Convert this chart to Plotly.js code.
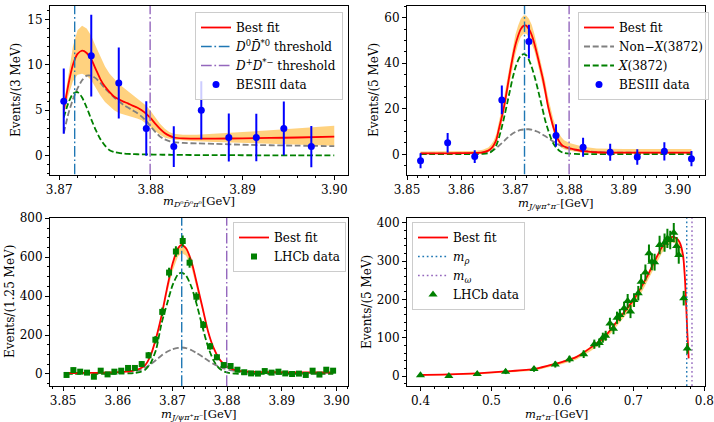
<!DOCTYPE html>
<html><head><meta charset="utf-8">
<script src="https://cdn.plot.ly/plotly-3.0.1.min.js"></script>
<style>html,body{margin:0;padding:0;background:#fff}</style>
</head><body><div id="chart" style="width:714px;height:422px"></div>
<script>
// ---------------- DATA ----------------
// thresholds / resonance masses (GeV)
const thresholdsD = [3.87169, 3.87992];      // D0 D0bar*0, D+ D*-
const massesRhoOmega = [0.77526, 0.78266];   // m_rho, m_omega

// Panel 1: BESIII D0 D0bar pi0
const tlDataX = [3.8705, 3.8735, 3.8765, 3.8795, 3.8825, 3.8855, 3.8885, 3.8915, 3.8945, 3.8975];
const tlDataY = [6, 11, 8, 3, 1, 5, 2, 2, 3, 1];
const tlDataErr = [3.6, 4.5, 3.9, 3.0, 2.25, 3.2, 2.65, 2.6, 2.95, 2.27];
const tlCurveX = [3.8705, 3.8710, 3.8715, 3.8720, 3.8725, 3.8730, 3.8735, 3.8740, 3.8745, 3.8750, 3.8755, 3.8760, 3.8765, 3.8770, 3.8775, 3.8780, 3.8785, 3.8790, 3.8795, 3.8800, 3.8805, 3.8810, 3.8815, 3.8820, 3.8825, 3.8835, 3.8850, 3.8870, 3.8900, 3.8930, 3.8960, 3.9000];
const tlFit = [5.0, 7.8, 10.0, 11.2, 11.55, 11.3, 10.6, 9.5, 8.4, 7.6, 7.0, 6.5, 6.2, 5.95, 5.75, 5.5, 5.3, 5.0, 4.6, 4.1, 3.5, 2.95, 2.5, 2.2, 2.0, 1.9, 1.88, 1.88, 1.9, 1.95, 2.0, 2.1];
const tlNonX = [2.5, 4.6, 6.2, 7.4, 8.3, 8.8, 8.8, 8.5, 8.0, 7.4, 6.9, 6.4, 6.0, 5.6, 5.3, 5.0, 4.7, 4.3, 3.8, 3.2, 2.6, 2.1, 1.8, 1.6, 1.5, 1.4, 1.35, 1.3, 1.2, 1.15, 1.1, 1.05];
const tlX = [4.2, 5.8, 6.8, 7.0, 6.4, 5.3, 4.0, 2.8, 1.8, 1.1, 0.6, 0.4, 0.3, 0.25, 0.2, 0.18, 0.16, 0.15, 0.14, 0.13, 0.12, 0.11, 0.1, 0.1, 0.09, 0.08, 0.07, 0.06, 0.05, 0.04, 0.04, 0.03];
const tlBandUp = [5.6, 9.0, 12.0, 13.8, 14.3, 14.0, 13.2, 12.0, 10.8, 9.8, 9.0, 8.4, 7.9, 7.5, 7.1, 6.8, 6.4, 6.0, 5.5, 4.9, 4.2, 3.5, 3.0, 2.6, 2.4, 2.3, 2.3, 2.4, 2.6, 2.8, 3.0, 3.3];
const tlBandLo = [4.3, 6.6, 8.2, 8.9, 9.0, 8.8, 8.3, 7.5, 6.6, 5.9, 5.4, 5.0, 4.7, 4.5, 4.4, 4.25, 4.1, 3.9, 3.6, 3.2, 2.7, 2.3, 2.0, 1.85, 1.75, 1.65, 1.6, 1.5, 1.4, 1.3, 1.2, 1.1];

// Panel 2: BESIII J/psi pi+ pi-
const trDataX = [3.8525, 3.8575, 3.8625, 3.8675, 3.8725, 3.8775, 3.8825, 3.8875, 3.8925, 3.8975, 3.9025];
const trDataY = [-2.8, 5.1, -1.0, 23.9, 49.5, 8.3, 3.1, 0.9, -1.2, 1.3, -1.9];
const trDataErr = [3.3, 4.3, 2.8, 6.3, 7.4, 4.9, 4.2, 3.7, 3.4, 4.0, 3.4];
const trCurveX = [3.8525, 3.855, 3.8575, 3.860, 3.8625, 3.864, 3.865, 3.8655, 3.866, 3.8665, 3.867, 3.8675, 3.868, 3.8685, 3.869, 3.8695, 3.870, 3.8705, 3.871, 3.8715, 3.872, 3.8725, 3.873, 3.8735, 3.874, 3.8745, 3.875, 3.8755, 3.876, 3.8765, 3.877, 3.8775, 3.878, 3.8785, 3.879, 3.880, 3.881, 3.8825, 3.885, 3.8875, 3.890, 3.895, 3.9025];
const trFit = [0.4, 0.4, 0.45, 0.5, 0.6, 0.9, 1.6, 2.5, 4.0, 6.5, 11.5, 16.5, 22, 29, 36, 42.5, 48, 52, 55, 56.4, 56.5, 55, 52.5, 48.7, 44, 39, 34, 28, 21.5, 16.5, 12, 8.5, 6, 4.3, 3.4, 2.6, 2.1, 1.4, 0.9, 0.75, 0.7, 0.7, 0.7];
const trNonX = [0.3, 0.3, 0.35, 0.4, 0.5, 0.8, 1.1, 1.4, 2.0, 2.8, 3.8, 4.9, 6.0, 7.2, 8.2, 9.1, 9.8, 10.3, 10.7, 10.9, 11.0, 11.0, 10.8, 10.5, 10.0, 9.4, 8.7, 8.0, 7.2, 6.4, 5.6, 4.9, 4.2, 3.6, 3.1, 2.5, 2.0, 1.5, 1.0, 0.8, 0.7, 0.65, 0.6];
const trX = [0.05, 0.05, 0.05, 0.05, 0.05, 0.2, 0.5, 1.0, 2.0, 4.0, 7.5, 12, 17, 22.5, 28, 33.5, 38, 41.3, 43.3, 44, 43.5, 41.5, 38.5, 34.5, 30, 25, 20, 15, 11, 7.5, 4.8, 3.0, 1.8, 1.0, 0.6, 0.3, 0.15, 0.05, 0.05, 0.05, 0.05, 0.05, 0.05];
const trBandUp = [1.2, 1.2, 1.2, 1.3, 1.5, 2.0, 3.0, 4.2, 6.0, 9.0, 14.5, 20, 26, 33, 40, 47, 52.5, 56.5, 59.5, 61, 61, 59.5, 57, 53, 48, 43, 38, 32, 25.5, 20, 15.5, 12, 9.3, 7.5, 6.2, 5.0, 4.2, 3.3, 2.6, 2.4, 2.3, 2.3, 2.3];
const trBandLo = [0, 0, 0, 0, 0.1, 0.4, 1.0, 1.6, 2.6, 4.5, 9, 13.5, 19, 25.5, 32, 38.5, 44, 48.5, 51.5, 53, 53, 51.5, 49, 45.5, 41, 36, 31, 25.5, 19.5, 14.5, 10, 6.8, 4.5, 3.0, 2.2, 1.6, 1.1, 0.6, 0.2, 0.1, 0.05, 0.05, 0.05];

// Panel 3: LHCb J/psi pi+ pi-
const blDataX = [3.850625, 3.851875, 3.853125, 3.854375, 3.855625, 3.856875, 3.858125, 3.859375, 3.860625, 3.861875, 3.863125, 3.864375, 3.865625, 3.866875, 3.868125, 3.869375, 3.870625, 3.871875, 3.873125, 3.874375, 3.875625, 3.876875, 3.878125, 3.879375, 3.880625, 3.881875, 3.883125, 3.884375, 3.885625, 3.886875, 3.888125, 3.889375, 3.890625, 3.891875, 3.893125, 3.894375, 3.895625, 3.896875, 3.898125, 3.899375];
const blDataY = [-5, 20, 12, 7, -14, 17, -2, 12, 17, 31, 31, 51, 96, 176, 319, 521, 629, 683, 572, 397, 252, 142, 86, 46, 41, 22, 9, 3, 2, 15, 7, 12, 3, 0, 2, -5, 17, -3, 22, 17];
const blDataErr = [12, 13, 12, 12, 11, 13, 12, 13, 13, 14, 14, 15, 17, 19, 22, 25, 27, 28, 26, 23, 20, 17, 15, 14, 13, 13, 12, 12, 12, 13, 12, 13, 12, 12, 12, 11, 13, 12, 13, 13];
const blCurveX = [3.8506, 3.853, 3.856, 3.859, 3.861, 3.862, 3.863, 3.864, 3.865, 3.866, 3.867, 3.868, 3.869, 3.870, 3.871, 3.8717, 3.8725, 3.8735, 3.8745, 3.8755, 3.8765, 3.8775, 3.8785, 3.8795, 3.8805, 3.8815, 3.8825, 3.884, 3.886, 3.889, 3.892, 3.895, 3.8994];
const blFit = [5, 5, 6, 8, 11, 14, 19, 27, 45, 95, 185, 300, 440, 565, 645, 663, 645, 575, 460, 340, 220, 135, 80, 48, 30, 20, 15, 12, 10, 9, 8, 8, 8];
const blNonX = [4, 4.5, 5.5, 7, 9, 11, 14, 20, 32, 50, 72, 95, 114, 127, 134, 136, 133, 122, 106, 88, 69, 52, 38, 28, 20, 15, 12, 9, 8, 7, 6.5, 6, 6];
const blX = [0.5, 0.5, 0.5, 1, 2, 3, 5, 10, 22, 55, 125, 260, 360, 455, 512, 521, 505, 445, 350, 240, 140, 70, 30, 12, 5, 2, 1, 0.5, 0.5, 0.5, 0.5, 0.5, 0.5];
const blBandUp = [7, 7, 8, 10, 13, 16, 21, 29, 48, 99, 190, 306, 446, 571, 651, 669, 651, 580, 465, 344, 224, 138, 83, 50, 32, 22, 17, 14, 12, 11, 10, 10, 10];
const blBandLo = [4, 4, 5, 7, 10, 13, 17, 24, 40, 86, 170, 280, 412, 528, 604, 622, 608, 543, 435, 322, 208, 127, 75, 45, 28, 18, 14, 11, 9, 8, 7, 7, 7];

// Panel 4: LHCb pi+ pi-
const brDataX = [0.400, 0.440, 0.480, 0.520, 0.560, 0.590, 0.610, 0.630, 0.645, 0.652, 0.657, 0.661, 0.667, 0.672, 0.677, 0.681, 0.687, 0.692, 0.696, 0.701, 0.707, 0.711, 0.717, 0.722, 0.726, 0.730, 0.737, 0.744, 0.748, 0.752, 0.757, 0.761, 0.764, 0.771, 0.776];
const brDataY = [2, 0, 5, 11, 18, 30, 44, 57, 83, 86, 100, 105, 137, 123, 152, 159, 177, 196, 168, 198, 216, 246, 270, 320, 298, 297, 342, 348, 359, 355, 374, 339, 316, 203, 72];
const brDataErr = [4, 4, 5, 6, 7, 8, 9, 10, 12, 12, 13, 13, 15, 14, 16, 16, 17, 18, 17, 18, 19, 20, 21, 23, 22, 22, 24, 24, 25, 24, 25, 24, 23, 19, 14];
const brCurveX = [0.40, 0.44, 0.48, 0.52, 0.56, 0.58, 0.60, 0.62, 0.64, 0.66, 0.68, 0.70, 0.71, 0.72, 0.73, 0.74, 0.75, 0.755, 0.76, 0.765, 0.77, 0.773, 0.776, 0.778];
const brFit = [2.6, 4, 7, 12, 18, 27, 37, 50, 74, 103, 150, 198, 228, 262, 300, 335, 358, 363, 360, 350, 316, 246, 116, 46];
const brBandUp = [3.5, 5, 8, 13, 19, 29, 39, 52, 77, 106, 153, 201, 231, 265, 303, 338, 361, 366, 363, 353, 319, 250, 121, 51];
const brBandLo = [1, 2, 4, 9, 14, 22, 31, 43, 65, 92, 137, 183, 212, 246, 284, 320, 344, 349, 345, 334, 300, 230, 106, 40];

// ---------------- STYLE / LAYOUT ----------------
const FONT = 'DejaVu Serif, serif';
const FS = 12;
const RED = '#ff0000', GREEN = '#008000', GRAY = '#808080', TBLUE = '#1f77b4', TPURP = '#9467bd', BLUE = '#0000ff';
const BAND = 'rgba(255,165,0,0.5)';
const DASH = '6px,2.7px', DASHDOT = '10.7px,2.7px,1.7px,2.7px', DOT = '1.7px,2.7px';

const R = {
  tl: {x: [3.869, 3.9015], y: [-2.07, 16.52]},
  tr: {x: [3.85, 3.905], y: [-8.87, 65.36]},
  bl: {x: [3.8476, 3.9021], y: [-61.7, 804]},
  br: {x: [0.381, 0.801], y: [-26.1, 413.6]}
};

const traces = [];
function band(xs, lo, up, xa, ya) {
  traces.push({x: xs.concat(xs.slice().reverse()), y: up.concat(lo.slice().reverse()), type: 'scatter', mode: 'lines',
    fill: 'toself', fillcolor: BAND, line: {width: 0}, xaxis: xa, yaxis: ya, showlegend: false, hoverinfo: 'skip'});
}
function line(xs, ys, color, dash, xa, ya, name, leg, rank, width) {
  traces.push({x: xs, y: ys, type: 'scatter', mode: 'lines', line: {color, dash, width: width || 1.8, shape: 'spline', smoothing: 0.6},
    xaxis: xa, yaxis: ya, name: name || '', showlegend: !!name, legend: leg, legendrank: rank || 1000});
}
function vline(xv, yr, color, dash, xa, ya, name, leg, rank, width) {
  traces.push({x: [xv, xv], y: yr, type: 'scatter', mode: 'lines', line: {color, dash, width: width || 1.4},
    xaxis: xa, yaxis: ya, name: name || '', showlegend: !!name, legend: leg, legendrank: rank || 1000});
}
function data(xs, ys, es, color, symbol, size, xa, ya, name, leg, rank) {
  traces.push({x: xs, y: ys, type: 'scatter', mode: 'markers', marker: {color, symbol, size},
    error_y: {type: 'data', array: es, visible: true, color, thickness: 2, width: 0},
    xaxis: xa, yaxis: ya, name, legend: leg, legendrank: rank});
}

// panel 1
band(tlCurveX, tlBandLo, tlBandUp, 'x', 'y');
line(tlCurveX, tlNonX, GRAY, DASH, 'x', 'y');
line(tlCurveX, tlX, GREEN, DASH, 'x', 'y');
line(tlCurveX, tlFit, RED, 'solid', 'x', 'y', 'Best fit', 'legend', 1);
vline(thresholdsD[0], R.tl.y, TBLUE, DASHDOT, 'x', 'y', '<i>D</i><sup>0</sup><i>D\u0304</i><sup>*0</sup> threshold', 'legend', 2);
vline(thresholdsD[1], R.tl.y, TPURP, DASHDOT, 'x', 'y', '<i>D</i><sup>+</sup><i>D</i><sup>*\u2212</sup> threshold', 'legend', 3);
data(tlDataX, tlDataY, tlDataErr, BLUE, 'circle', 7, 'x', 'y', 'BESIII data', 'legend', 4);

// panel 2
band(trCurveX, trBandLo, trBandUp, 'x2', 'y2');
line(trCurveX, trNonX, GRAY, DASH, 'x2', 'y2', 'Non\u2212<i>X</i>(3872)', 'legend2', 2);
line(trCurveX, trX, GREEN, DASH, 'x2', 'y2', '<i>X</i>(3872)', 'legend2', 3);
line(trCurveX, trFit, RED, 'solid', 'x2', 'y2', 'Best fit', 'legend2', 1);
vline(thresholdsD[0], R.tr.y, TBLUE, DASHDOT, 'x2', 'y2');
vline(thresholdsD[1], R.tr.y, TPURP, DASHDOT, 'x2', 'y2');
data(trDataX, trDataY, trDataErr, BLUE, 'circle', 7, 'x2', 'y2', 'BESIII data', 'legend2', 4);

// panel 3
band(blCurveX, blBandLo, blBandUp, 'x3', 'y3');
line(blCurveX, blNonX, GRAY, DASH, 'x3', 'y3');
line(blCurveX, blX, GREEN, DASH, 'x3', 'y3');
line(blCurveX, blFit, RED, 'solid', 'x3', 'y3', 'Best fit', 'legend3', 1);
vline(thresholdsD[0], R.bl.y, TBLUE, DASHDOT, 'x3', 'y3');
vline(thresholdsD[1], R.bl.y, TPURP, DASHDOT, 'x3', 'y3');
data(blDataX, blDataY, blDataErr, GREEN, 'square', 6, 'x3', 'y3', 'LHCb data', 'legend3', 4);

// panel 4
band(brCurveX, brBandLo, brBandUp, 'x4', 'y4');
line(brCurveX, brFit, RED, 'solid', 'x4', 'y4', 'Best fit', 'legend4', 1);
vline(massesRhoOmega[0], R.br.y, TBLUE, DOT, 'x4', 'y4', '<i>m<sub>\u03c1</sub></i>', 'legend4', 2);
vline(massesRhoOmega[1], R.br.y, TPURP, DOT, 'x4', 'y4', '<i>m<sub>\u03c9</sub></i>', 'legend4', 3);
data(brDataX, brDataY, brDataErr, GREEN, 'triangle-up', 8, 'x4', 'y4', 'LHCb data', 'legend4', 4);

function ax(domain, range, dtick, minor, fmt, anchor) {
  return {domain, range, dtick, tick0: 0, tickformat: fmt, anchor, showline: true, mirror: true, linecolor: '#000', linewidth: 1,
    ticks: 'outside', ticklen: 4, tickwidth: 1, tickcolor: '#000', showgrid: false, zeroline: false,
    tickfont: {family: FONT, size: FS, color: '#000'},
    minor: {dtick: minor, ticks: 'outside', ticklen: 2, tickwidth: 1, tickcolor: '#000', showgrid: false}, fixedrange: true};
}
const XL = [50/714, 348/714], XR = [407/714, 705/714];
const YT = [1 - 174.5/422, 1 - 5.5/422], YB = [1 - 386/422, 1 - 217.5/422];

function leg(x, y) {
  return {x, y, xanchor: 'left', yanchor: 'top', bgcolor: 'rgba(255,255,255,0.8)', bordercolor: '#cccccc', borderwidth: 1,
    font: {family: FONT, size: FS, color: '#000'}, traceorder: 'normal'};
}
function ann(text, x, y, rot, size) {
  return {text, x: x/714, y: 1 - y/422, xref: 'paper', yref: 'paper', showarrow: false, textangle: rot || 0,
    xanchor: 'center', yanchor: 'middle', font: {family: FONT, size: size || FS, color: '#000'}};
}

const layout = {
  width: 714, height: 422, margin: {l: 0, r: 0, t: 0, b: 0}, paper_bgcolor: '#fff', plot_bgcolor: '#fff', showlegend: true,
  xaxis: ax(XL, R.tl.x, 0.01, 0.002, '.2f', 'y'), yaxis: ax(YT, R.tl.y, 5, 1, '', 'x'),
  xaxis2: ax(XR, R.tr.x, 0.01, 0.002, '.2f', 'y2'), yaxis2: ax(YT, R.tr.y, 20, 5, '', 'x2'),
  xaxis3: ax(XL, R.bl.x, 0.01, 0.002, '.2f', 'y3'), yaxis3: ax(YB, R.bl.y, 200, 50, '', 'x3'),
  xaxis4: ax(XR, R.br.x, 0.1, 0.02, '.1f', 'y4'), yaxis4: ax(YB, R.br.y, 100, 20, '', 'x4'),
  legend: leg(195/714, 1 - 12/422), legend2: leg(578/714, 1 - 12/422),
  legend3: leg(233/714, 1 - 222/422), legend4: leg(412/714, 1 - 222/422),
  annotations: [
    ann('Events/(3 MeV)', 16, 90, -90),
    ann('Events/(5 MeV)', 374, 90, -90),
    ann('Events/(1.25 MeV)', 10, 302, -90),
    ann('Events/(5 MeV)', 367, 302, -90),
    ann('<i>m</i><sub><i>D</i>\u2070<i>D\u0304</i>\u2070<i>\u03c0</i>\u2070</sub>[GeV]', 199, 202, 0, 11.5),
    ann('<i>m</i><sub><i>J/\u03c8\u03c0</i>\u207a<i>\u03c0</i>\u207b</sub>[GeV]', 556, 203, 0, 11.5),
    ann('<i>m</i><sub><i>J/\u03c8\u03c0</i>\u207a<i>\u03c0</i>\u207b</sub>[GeV]', 199, 414, 0, 11.5),
    ann('<i>m</i><sub><i>\u03c0</i>\u207a<i>\u03c0</i>\u207b</sub>[GeV]', 556, 414, 0, 11.5)
  ]
};
Plotly.newPlot('chart', traces, layout, {displayModeBar: false, staticPlot: true});
</script></body></html>
